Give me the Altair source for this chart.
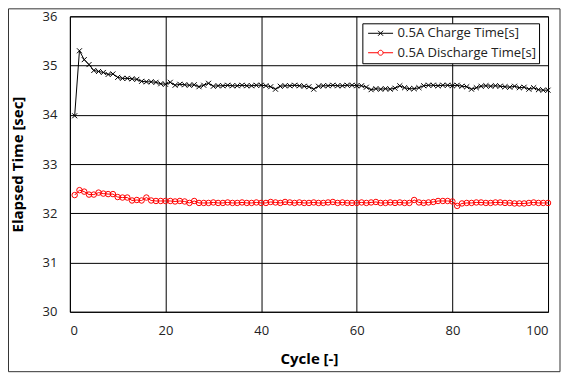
import altair as alt
import pandas as pd

cycles = list(range(1, 101))
charge = [
    33.98, 35.30, 35.12, 35.02, 34.90, 34.88, 34.86, 34.82, 34.83, 34.76,
    34.74, 34.74, 34.73, 34.72, 34.68, 34.67, 34.67, 34.66, 34.63, 34.62,
    34.66, 34.60, 34.62, 34.61, 34.60, 34.61, 34.57, 34.60, 34.64, 34.58,
    34.59, 34.59, 34.60, 34.59, 34.59, 34.60, 34.59, 34.59, 34.60, 34.60,
    34.59, 34.57, 34.52, 34.58, 34.59, 34.59, 34.60, 34.59, 34.58, 34.57,
    34.52, 34.58, 34.59, 34.59, 34.60, 34.59, 34.59, 34.60, 34.60, 34.59,
    34.59, 34.56, 34.51, 34.53, 34.52, 34.53, 34.52, 34.54, 34.59, 34.55,
    34.53, 34.53, 34.55, 34.59, 34.60, 34.60, 34.59, 34.60, 34.60, 34.59,
    34.60, 34.58, 34.57, 34.52, 34.55, 34.58, 34.59, 34.58, 34.59, 34.58,
    34.57, 34.56, 34.58, 34.55, 34.56, 34.52, 34.55, 34.51, 34.50, 34.50,
]
discharge = [
    32.37, 32.47, 32.44, 32.38, 32.38, 32.42, 32.40, 32.39, 32.39, 32.33,
    32.32, 32.32, 32.26, 32.27, 32.26, 32.32, 32.26, 32.25, 32.25, 32.25,
    32.25, 32.24, 32.25, 32.24, 32.21, 32.25, 32.21, 32.21, 32.21, 32.22,
    32.21, 32.21, 32.22, 32.21, 32.21, 32.22, 32.21, 32.21, 32.22, 32.21,
    32.21, 32.23, 32.22, 32.21, 32.23, 32.22, 32.21, 32.22, 32.21, 32.21,
    32.22, 32.21, 32.21, 32.22, 32.23, 32.21, 32.22, 32.21, 32.21, 32.21,
    32.22, 32.21, 32.22, 32.23, 32.21, 32.21, 32.22, 32.21, 32.22, 32.21,
    32.21, 32.27, 32.22, 32.21, 32.22, 32.23, 32.25, 32.25, 32.25, 32.24,
    32.15, 32.20, 32.21, 32.21, 32.22, 32.22, 32.21, 32.21, 32.22, 32.22,
    32.21, 32.21, 32.20, 32.20, 32.20, 32.21, 32.22, 32.21, 32.21, 32.21,
]
series_names = ["0.5A Charge Time[s]", "0.5A Discharge Time[s]"]
series_colors = ["#000000", "#ff0000"]
x_ticks = [0, 20, 40, 60, 80, 100]
y_ticks = [30, 31, 32, 33, 34, 35, 36]

df = pd.concat([
    pd.DataFrame({"cycle": cycles, "value": charge, "series": series_names[0]}),
    pd.DataFrame({"cycle": cycles, "value": discharge, "series": series_names[1]}),
])

FONT = "Open Sans"
XPATH = "M-1,-1L1,1M-1,1L1,-1"
LEG_X = "M-2,0L2,0M-0.4,-0.4L0.4,0.4M-0.4,0.4L0.4,-0.4"
LEG_O = "M-2,0L-0.4,0M0.4,0L2,0M0.4,0A0.4,0.4,0,1,1,-0.4,0A0.4,0.4,0,1,1,0.4,0"

xenc = alt.X("cycle:Q", title="Cycle [-]",
             scale=alt.Scale(domain=[0, 100], nice=False),
             axis=alt.Axis(values=x_ticks, grid=True, gridColor="#000", gridOpacity=1,
                           ticks=False, domain=False, labelPadding=13,
                           labelFontSize=13, labelColor="#222", labelFont=FONT,
                           titleFontSize=15, titleFont=FONT, titleFontWeight="bold",
                           titleX=239.5, titleY=47, titleBaseline="middle"))
yenc = alt.Y("value:Q", title="Elapsed Time [sec]",
             scale=alt.Scale(domain=[30, 36], nice=False),
             axis=alt.Axis(values=y_ticks, grid=True, gridColor="#000", gridOpacity=1,
                           ticks=False, domain=False, labelPadding=13,
                           labelFontSize=13, labelColor="#222", labelFont=FONT,
                           titleFontSize=15, titleFont=FONT, titleFontWeight="bold",
                           titleX=-52, titleY=148, titleBaseline="middle", titleAngle=-90))
cscale = alt.Scale(domain=series_names, range=series_colors)

base = alt.Chart(df)
lines = base.mark_line(strokeWidth=1).encode(
    x=xenc, y=yenc, color=alt.Color("series:N", scale=cscale, legend=None),
    detail="series:N")
pts_c = base.transform_filter(alt.datum.series == series_names[0]).mark_point(
    shape=XPATH, size=25, filled=False, strokeWidth=1, color="#000", opacity=1
).encode(x="cycle:Q", y="value:Q")
pts_d = base.transform_filter(alt.datum.series == series_names[1]).mark_point(
    shape="circle", size=30, filled=False, strokeWidth=1, color="#ff0000", opacity=1
).encode(x="cycle:Q", y="value:Q")
legend_layer = base.transform_calculate(lg="datum.series").transform_filter(
    "datum.cycle < 0"
).mark_point(filled=False, opacity=1).encode(
    x="cycle:Q", y="value:Q",
    color=alt.Color("lg:N", title=None,
                    scale=alt.Scale(domain=series_names, range=series_colors),
                    legend=alt.Legend(orient="none", legendX=293, legendY=7, title=None,
                                      symbolSize=156.25, symbolStrokeWidth=1,
                                      symbolOffset=8.25,
                                      labelFont=FONT, labelFontSize=13.1, labelColor="#222",
                                      strokeColor="#000", fillColor="#fff",
                                      padding=3, rowPadding=4.5, labelOffset=10)),
    shape=alt.Shape("lg:N", title=None,
                    scale=alt.Scale(domain=series_names, range=[LEG_X, LEG_O])),
)
frame = alt.Chart(pd.DataFrame({"f": [0]})).mark_rect(
    fill=None, stroke="#333", strokeWidth=1
).encode(x=alt.value(-61.5), x2=alt.value(491), y=alt.value(-7.5), y2=alt.value(356))

chart = alt.layer(lines, pts_c, pts_d, legend_layer, frame).resolve_scale(
    color="independent", shape="independent"
).properties(
    width=479, height=296,
    padding={"left": 62, "top": 8, "right": 13, "bottom": 61},
    autosize=alt.AutoSizeParams(type="none"),
    background="#fff",
).configure_view(stroke="#000", strokeWidth=1)

chart.save("out.html", embed_options={"renderer": "svg", "actions": False})
